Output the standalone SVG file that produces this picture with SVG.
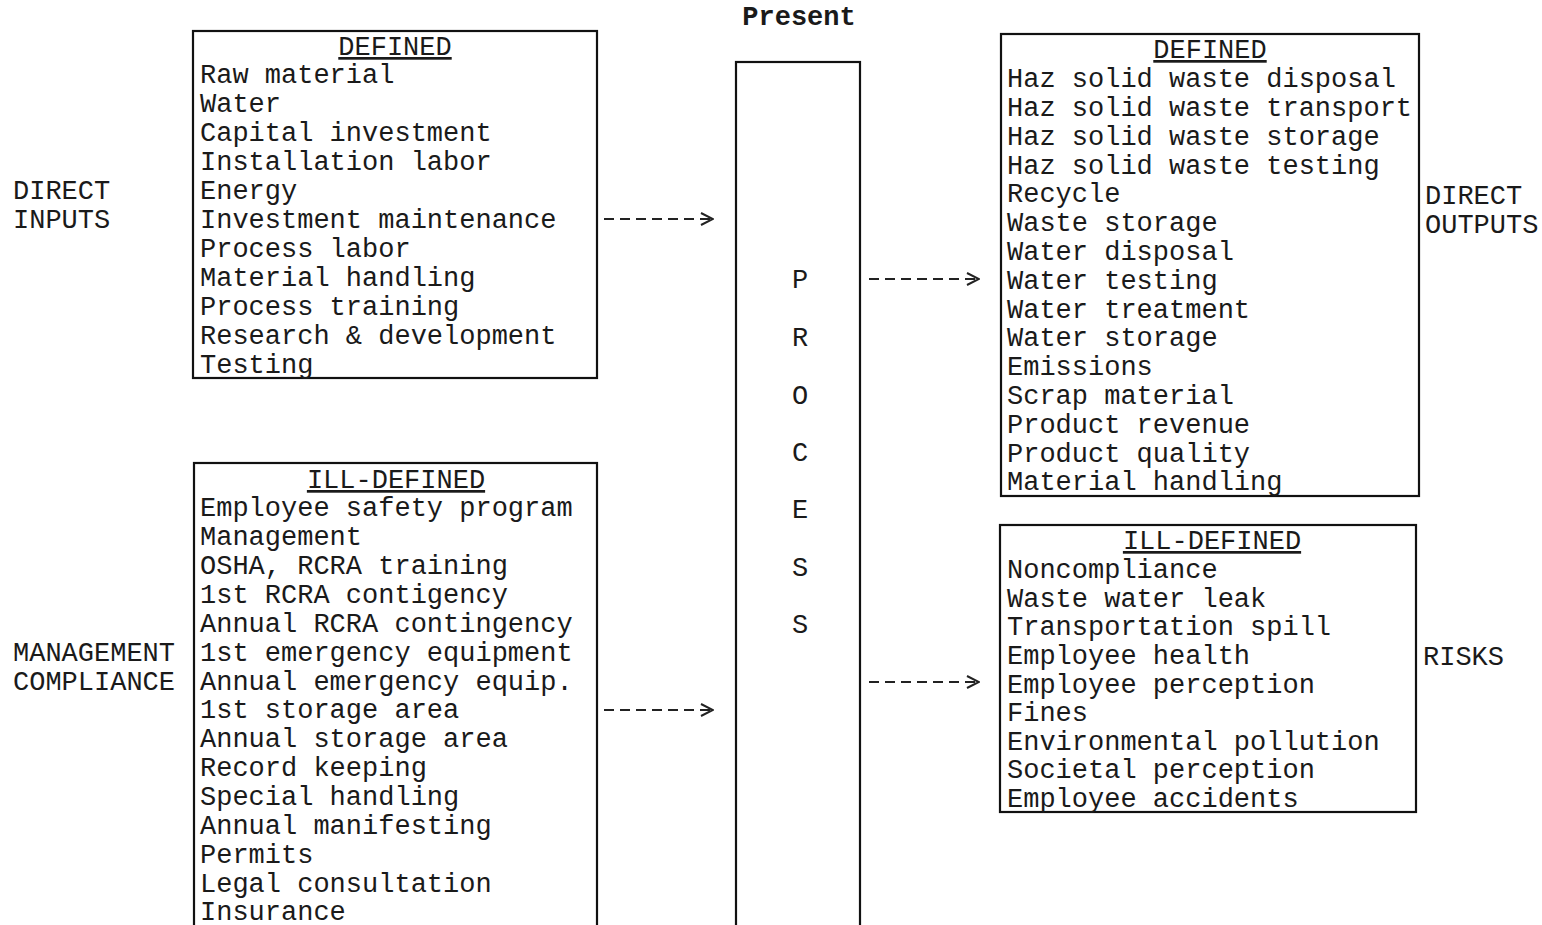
<svg xmlns="http://www.w3.org/2000/svg" width="1542" height="925" viewBox="0 0 1542 925">
<style>
text{font-family:"Liberation Mono","DejaVu Sans Mono",monospace;font-size:27px;fill:#1a1a1a}
.hd{text-anchor:middle;text-decoration:underline}
.box{fill:none;stroke:#111;stroke-width:2.2}
.con{fill:none;stroke:#222;stroke-width:2;stroke-dasharray:10 6}
.bold{font-weight:bold;text-anchor:middle}
.mid{text-anchor:middle}
</style>
<defs>
<marker id="chev" viewBox="0 0 14 16" refX="13" refY="8" markerWidth="14" markerHeight="16" markerUnits="userSpaceOnUse" orient="auto">
<path d="M1 2 L13 8 L1 14" fill="none" stroke="#222" stroke-width="2"/>
</marker>
</defs>
<rect width="1542" height="925" fill="#fff"/>
<g id="title"><text class="bold" x="799" y="25">Present</text></g>
<g id="label-direct-inputs"><text x="13" y="199">DIRECT</text><text x="13" y="228">INPUTS</text></g>
<g id="label-management"><text x="13" y="661">MANAGEMENT</text><text x="13" y="690">COMPLIANCE</text></g>
<g id="label-direct-outputs"><text x="1425" y="204">DIRECT</text><text x="1425" y="233">OUTPUTS</text></g>
<g id="label-risks"><text x="1423" y="665">RISKS</text></g>
<g id="inputs-defined">
<rect class="box" x="193" y="31" width="404" height="347"/>
<text class="hd" x="395" y="55">DEFINED</text>
<text x="200" y="83">Raw material</text>
<text x="200" y="112">Water</text>
<text x="200" y="141">Capital investment</text>
<text x="200" y="170">Installation labor</text>
<text x="200" y="199">Energy</text>
<text x="200" y="228">Investment maintenance</text>
<text x="200" y="257">Process labor</text>
<text x="200" y="286">Material handling</text>
<text x="200" y="315">Process training</text>
<text x="200" y="344">Research &amp; development</text>
<text x="200" y="373">Testing</text>
</g>
<g id="inputs-ill-defined">
<rect class="box" x="194" y="463" width="403" height="470"/>
<text class="hd" x="396" y="488">ILL-DEFINED</text>
<text x="200" y="516">Employee safety program</text>
<text x="200" y="545">Management</text>
<text x="200" y="574">OSHA, RCRA training</text>
<text x="200" y="603">1st RCRA contigency</text>
<text x="200" y="632">Annual RCRA contingency</text>
<text x="200" y="661">1st emergency equipment</text>
<text x="200" y="690">Annual emergency equip.</text>
<text x="200" y="718">1st storage area</text>
<text x="200" y="747">Annual storage area</text>
<text x="200" y="776">Record keeping</text>
<text x="200" y="805">Special handling</text>
<text x="200" y="834">Annual manifesting</text>
<text x="200" y="863">Permits</text>
<text x="200" y="892">Legal consultation</text>
<text x="200" y="920">Insurance</text>
</g>
<g id="process">
<rect class="box" x="736" y="62" width="124" height="880"/>
<text class="mid" x="800" y="288">P</text>
<text class="mid" x="800" y="346">R</text>
<text class="mid" x="800" y="404">O</text>
<text class="mid" x="800" y="461">C</text>
<text class="mid" x="800" y="518">E</text>
<text class="mid" x="800" y="576">S</text>
<text class="mid" x="800" y="633">S</text>
</g>
<g id="outputs-defined">
<rect class="box" x="1001" y="34" width="418" height="462"/>
<text class="hd" x="1210" y="58">DEFINED</text>
<text x="1007" y="87">Haz solid waste disposal</text>
<text x="1007" y="116">Haz solid waste transport</text>
<text x="1007" y="145">Haz solid waste storage</text>
<text x="1007" y="174">Haz solid waste testing</text>
<text x="1007" y="202">Recycle</text>
<text x="1007" y="231">Waste storage</text>
<text x="1007" y="260">Water disposal</text>
<text x="1007" y="289">Water testing</text>
<text x="1007" y="318">Water treatment</text>
<text x="1007" y="346">Water storage</text>
<text x="1007" y="375">Emissions</text>
<text x="1007" y="404">Scrap material</text>
<text x="1007" y="433">Product revenue</text>
<text x="1007" y="462">Product quality</text>
<text x="1007" y="490">Material handling</text>
</g>
<g id="risks-ill-defined">
<rect class="box" x="1000" y="525" width="416" height="287"/>
<text class="hd" x="1212" y="549">ILL-DEFINED</text>
<text x="1007" y="578">Noncompliance</text>
<text x="1007" y="607">Waste water leak</text>
<text x="1007" y="635">Transportation spill</text>
<text x="1007" y="664">Employee health</text>
<text x="1007" y="693">Employee perception</text>
<text x="1007" y="721">Fines</text>
<text x="1007" y="750">Environmental pollution</text>
<text x="1007" y="778">Societal perception</text>
<text x="1007" y="807">Employee accidents</text>
</g>
<g id="connectors">
<path class="con" d="M604 219 H713" marker-end="url(#chev)"/>
<path class="con" d="M604 710 H713" marker-end="url(#chev)"/>
<path class="con" d="M869 279 H979" marker-end="url(#chev)"/>
<path class="con" d="M869 682 H979" marker-end="url(#chev)"/>
</g>
</svg>
